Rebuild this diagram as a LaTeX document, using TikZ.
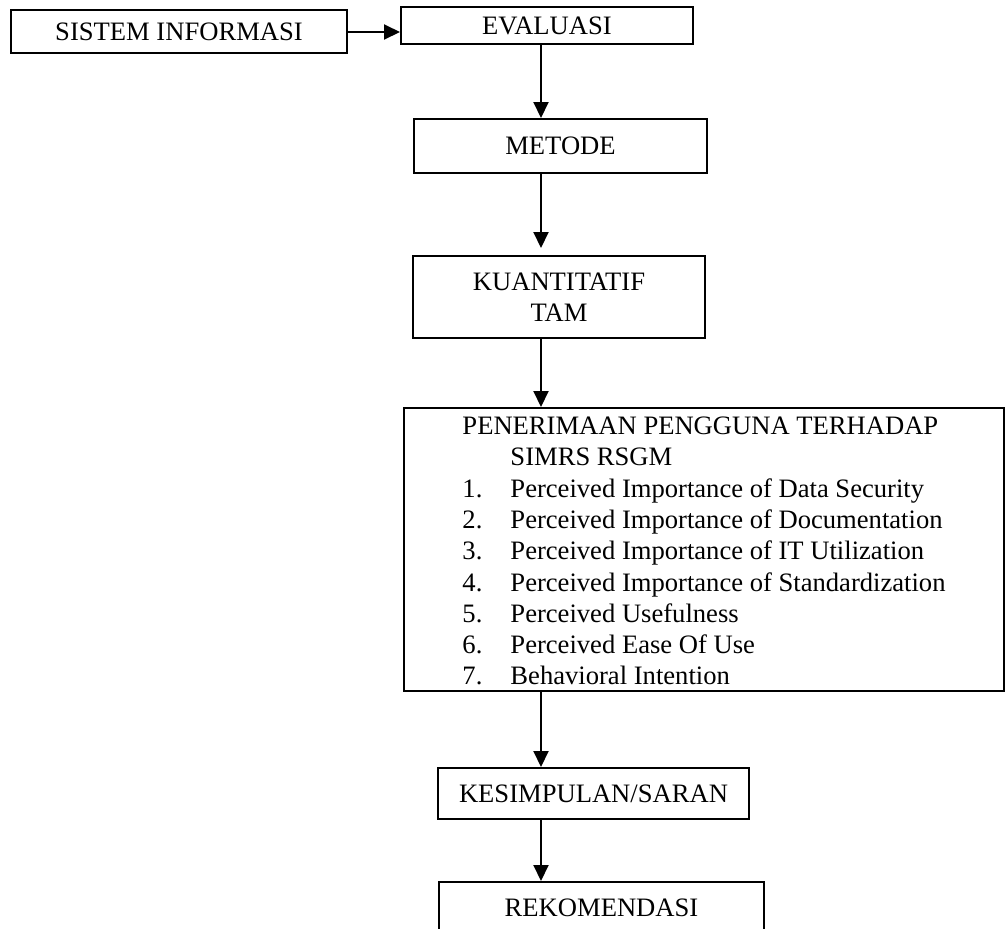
\documentclass[tikz,border=0pt]{standalone}
\usepackage{fontspec}
\setmainfont{Liberation Serif}
\usetikzlibrary{positioning, arrows.meta}
\tikzstyle{process} = [rectangle, anchor=north west, inner sep=0pt, text centered, draw=black, line width=1pt, font=\fontsize{13.3}{15.65}\selectfont]
\tikzstyle{arrow} = [line width=1pt,-{Triangle[length=8pt,width=7.5pt]}]

\begin{document}
\begin{tikzpicture}[x=0.5pt, y=-0.5pt]
                    \clip (0,0) rectangle (1008,928);
                    \useasboundingbox (0,0) rectangle (1008,928);
                    \coordinate (spine) at (541,0);
                    \coordinate (link) at (0,32);

                    \node (sistem) [process, minimum width=168pt, minimum height=21.5pt] at (10,9) {SISTEM INFORMASI};
                    \node (evaluasi) [process, minimum width=146pt, minimum height=18.5pt] at (400,6) {EVALUASI};
                    \node (metode) [process, minimum width=146.5pt, minimum height=27pt] at (413,118) {METODE};
                    \node (kuantitatif) [process, minimum width=146pt, minimum height=41pt, align=center] at (412,255) {KUANTITATIF\\TAM};
                    \node (penerimaan) [process, minimum width=300pt, minimum height=141.5pt] at (403,407) {%
                        \begin{tabular}{@{}p{24pt}@{}l@{}}
                        \multicolumn{2}{@{}l@{}}{PENERIMAAN PENGGUNA TERHADAP}\\
                           & SIMRS RSGM\\
                        1. & Perceived Importance of Data Security\\
                        2. & Perceived Importance of Documentation\\
                        3. & Perceived Importance of IT Utilization\\
                        4. & Perceived Importance of Standardization\\
                        5. & Perceived Usefulness\\
                        6. & Perceived Ease Of Use\\
                        7. & Behavioral Intention\\[-4pt]
                        \end{tabular}};
                    \node (kesimpulan) [process, minimum width=155.5pt, minimum height=25.5pt] at (437,767) {KESIMPULAN/SARAN};
                    \node (rekomendasi) [process, minimum width=162.5pt, minimum height=26pt] at (438,881) {REKOMENDASI};

                    \draw [arrow] (sistem.east |- link) -- (evaluasi.west |- link);
                    \draw [arrow] (evaluasi.south -| spine) -- (metode.north -| spine);
                    \draw [arrow, shorten >=3.5pt] (metode.south -| spine) -- (kuantitatif.north -| spine);
                    \draw [arrow] (kuantitatif.south -| spine) -- (penerimaan.north -| spine);
                    \draw [arrow] (penerimaan.south -| spine) -- (kesimpulan.north -| spine);
                    \draw [arrow] (kesimpulan.south -| spine) -- (rekomendasi.north -| spine);
                \end{tikzpicture}
\end{document}
